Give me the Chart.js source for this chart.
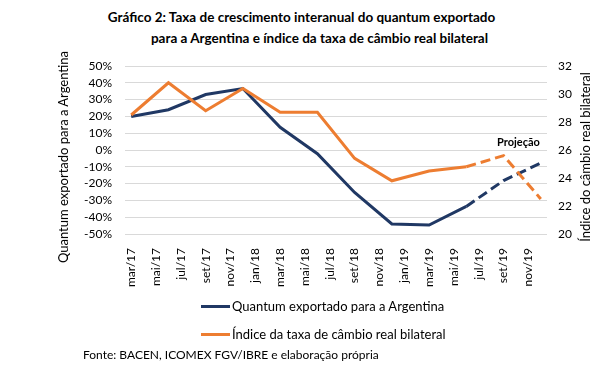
<!DOCTYPE html>
<html lang="pt">
<head>
<meta charset="utf-8">
<script src="https://cdn.jsdelivr.net/npm/chart.js@4/dist/chart.umd.min.js"></script>
<style>
  body { margin: 0; background: #fff; font-family: Lato, "Open Sans", sans-serif; color: #000; }
  #wrap { position: relative; width: 603px; height: 376px; overflow: hidden; }
  #grafico { position: absolute; left: 0; top: 0; }
  .titulo { position: absolute; left: 0; width: 603px; text-align: center; font-weight: 700; font-size: 13.5px; line-height: 21px; }
  .eixo { position: absolute; width: 300px; height: 16px; line-height: 16px; text-align: center; font-size: 13px;
          transform: rotate(-90deg); transform-origin: center center; white-space: nowrap; }
  #legenda { position: absolute; left: 201px; top: 292px; font-size: 13px; }
  #legenda .item { display: flex; align-items: center; height: 28px; }
  #legenda .traco { width: 29px; height: 3px; margin-right: 2px; }
  #fonte { position: absolute; left: 83px; top: 347px; font-size: 12px; }
  #projecao { position: absolute; left: 497px; top: 135px; font-size: 11px; font-weight: 700; }
</style>
</head>
<body>
<div id="wrap">
  <div class="titulo" style="top:7px">Gráfico 2: Taxa de crescimento interanual do quantum exportado</div>
  <div class="titulo" style="top:28px; padding-left:36px; width:567px">para a Argentina e índice da taxa de câmbio real bilateral</div>
  <canvas id="grafico" width="603" height="376"></canvas>
  <div class="eixo" style="left:-87px; top:149px">Quantum exportado para a Argentina</div>
  <div class="eixo" style="left:435px; top:149px">Índice do câmbio real bilateral</div>
  <div id="projecao">Projeção</div>
  <div id="legenda"></div>
  <div id="fonte">Fonte: BACEN, ICOMEX FGV/IBRE e elaboração própria</div>
</div>
<script>
// eixo mensal (rótulo a cada 2 meses), dados trimestrais
const meses = [
  "mar/17", "abr/17", "mai/17", "jun/17", "jul/17", "ago/17", "set/17", "out/17", "nov/17", "dez/17",
  "jan/18", "fev/18", "mar/18", "abr/18", "mai/18", "jun/18", "jul/18", "ago/18", "set/18", "out/18", "nov/18", "dez/18",
  "jan/19", "fev/19", "mar/19", "abr/19", "mai/19", "jun/19", "jul/19", "ago/19", "set/19", "out/19", "nov/19", "dez/19"
];
const trimestres = ["mar/17", "jun/17", "set/17", "dez/17", "mar/18", "jun/18", "set/18", "dez/18", "mar/19", "jun/19", "set/19", "dez/19"];
const quantum = [20, 24, 33, 36.6, 13.5, -2.2, -25.3, -44, -44.7, -33.6, -18.2, -7.8];
const cambio = [28.5, 30.8, 28.8, 30.4, 28.7, 28.7, 25.4, 23.8, 24.5, 24.8, 25.6, 22.5];
const inicioProjecao = 9; // a partir de jun/19 a linha fica tracejada

const azul = "#203864";
const laranja = "#ED7D31";
const fonte = "Lato, 'Open Sans', sans-serif";

const tracejado = (ctx) => ctx.p0DataIndex >= inicioProjecao ? [10, 5] : undefined;

const chart = new Chart(document.getElementById("grafico"), {
  type: "line",
  data: {
    labels: meses,
    datasets: [
      {
        label: "Quantum exportado para a Argentina",
        data: trimestres.map((m, i) => ({ x: m, y: quantum[i] })),
        yAxisID: "y",
        borderColor: azul,
        borderWidth: 3,
        pointRadius: 0,
        tension: 0,
        order: 1,
        segment: { borderDash: tracejado },
      },
      {
        label: "Índice da taxa de câmbio real bilateral",
        data: trimestres.map((m, i) => ({ x: m, y: cambio[i] })),
        yAxisID: "y1",
        borderColor: laranja,
        borderWidth: 3,
        pointRadius: 0,
        tension: 0,
        order: 0,
        segment: { borderDash: tracejado },
      },
    ],
  },
  options: {
    responsive: false,
    animation: false,
    layout: { padding: { top: 66, left: 55, right: 11, bottom: 0 } },
    plugins: { legend: { display: false }, tooltip: { enabled: false } },
    scales: {
      x: {
        type: "category",
        offset: true,
        grid: { display: false },
        border: { display: false },
        ticks: {
          autoSkip: false,
          minRotation: 90,
          maxRotation: 90,
          padding: 6,
          color: "#000",
          font: { family: fonte, size: 12 },
          callback: (v, i) => (i % 2 === 0 ? meses[i] : ""),
        },
        afterFit: (s) => { s.height = 142; },
      },
      y: {
        position: "left",
        min: -50,
        max: 50,
        grid: { color: "#d9d9d9", lineWidth: 1, drawTicks: false },
        border: { display: false },
        ticks: {
          autoSkip: false,
          stepSize: 10,
          padding: 13,
          color: "#000",
          font: { family: fonte, size: 12 },
          callback: (v) => v + "%",
        },
        afterFit: (s) => { s.width = 70; },
      },
      y1: {
        position: "right",
        min: 20,
        max: 32,
        grid: { display: false, drawTicks: false },
        border: { display: false },
        ticks: {
          autoSkip: false,
          stepSize: 2,
          padding: 11,
          color: "#000",
          font: { family: fonte, size: 12 },
        },
        afterFit: (s) => { s.width = 45; },
      },
    },
  },
});

// legenda em coluna, montada a partir dos datasets
const legenda = document.getElementById("legenda");
chart.data.datasets.forEach((ds) => {
  const item = document.createElement("div");
  item.className = "item";
  item.innerHTML = `<span class="traco" style="background:${ds.borderColor}"></span><span>${ds.label}</span>`;
  legenda.appendChild(item);
});
</script>
</body>
</html>
